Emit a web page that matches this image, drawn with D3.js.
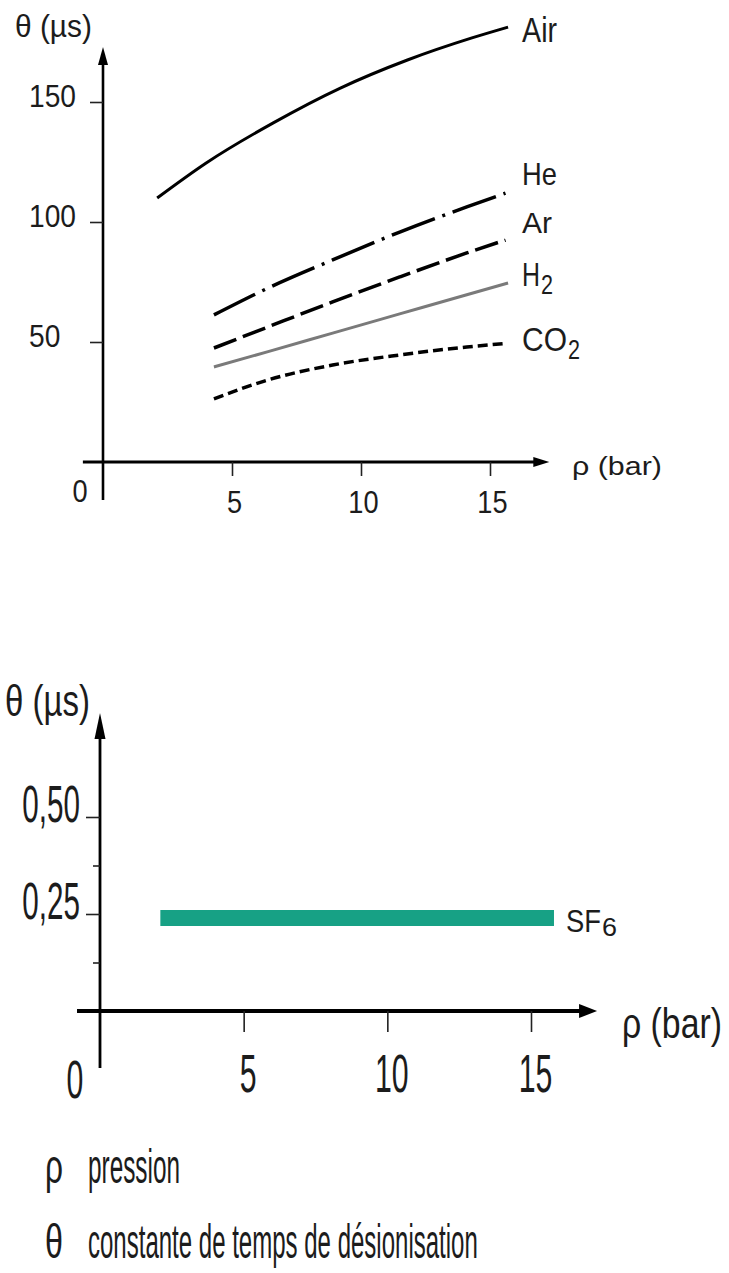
<!DOCTYPE html>
<html><head><meta charset="utf-8">
<script src="https://cdn.jsdelivr.net/npm/d3@7"></script>
<style>
body{margin:0;background:#fff}
text{font-family:"Liberation Sans",Arial,sans-serif;fill:#1c1c1c}
</style>
</head><body><script>
// ---------- data ----------
const pressureTicks = [5, 10, 15];
const thetaTicksTop = [50, 100, 150];
const thetaTicksBottom = [0.25, 0.5];
const thetaMinorBottom = [0.125, 0.375];

const airP = [2.1, 4.0, 6.6, 9.2, 11.8, 14.3, 15.7];
const airT = [110, 124.6, 141.3, 155.8, 167.5, 176.7, 181.2];
const heP  = [4.3, 6.4, 8.9, 11.5, 14.1, 15.6];
const heT  = [61.3, 72.5, 84.2, 95.8, 106.3, 112];
const arP  = [4.3, 6.4, 8.9, 11.5, 14.1, 15.6];
const arT  = [47.5, 56.3, 66.7, 77.1, 87.1, 92.5];
const h2P  = [4.3, 6.4, 8.9, 11.5, 14.1, 15.7];
const h2T  = [39.6, 46.0, 53.7, 61.7, 69.7, 74.6];
const co2P = [4.3, 6.4, 8.9, 11.5, 14.1, 15.6];
const co2T = [26.3, 34.2, 40.4, 44.6, 47.9, 49.4];
const sf6P = [2.1, 15.8];
const sf6T = [0.24, 0.24];

const gasMain = ["Air", "He", "Ar", "H", "CO"];
const gasSub  = ["", "", "", "2", "2"];
const legendSymbols = ["ρ", "θ"];
const legendTexts = ["pression", "constante de temps de désionisation"];

// ---------- drawing ----------
const svg = d3.select("body").append("svg").attr("width", 729).attr("height", 1273);

function shape(t, x, y, fs, opt) {
  t.attr("font-size", fs).attr("x", 0).attr("y", 0);
  const w0 = t.node().getComputedTextLength();
  const sx = opt.w != null ? opt.w / w0 : opt.sx;
  t.attr("font-size", fs * sx)
   .attr("transform", `translate(${x},${y}) scale(1,${1 / sx})`);
  return w0 * sx;
}
function txt(g, s, x, y, fs, anchor, opt) {
  const t = g.append("text").attr("text-anchor", anchor || "start").text(s);
  return shape(t, x, y, fs, opt);
}
function fitAxisText(sel, x, y, fs, anchor, sx) {
  sel.each(function () {
    const t = d3.select(this).attr("dy", null).attr("text-anchor", anchor)
      .attr("font-family", null).attr("fill", "#1c1c1c");
    shape(t, x, y, fs, { sx });
  });
}

// ===== Top chart =====
const x1 = d3.scaleLinear().domain([0, 15]).range([103, 490]);
const y1 = d3.scaleLinear().domain([0, 150]).range([462, 102]);
const gTop = svg.append("g");

gTop.append("line").attr("x1", x1(-0.78)).attr("x2", x1(17.0)).attr("y1", y1(0)).attr("y2", y1(0))
  .attr("stroke", "#000").attr("stroke-width", 2.8);
gTop.append("line").attr("x1", x1(0)).attr("x2", x1(0)).attr("y1", y1(-15.8)).attr("y2", y1(170))
  .attr("stroke", "#000").attr("stroke-width", 2.6);
{
  const tx = x1(17.3), ty = y1(0);
  gTop.append("path").attr("d", `M${tx},${ty} L${tx - 16},${ty - 5} L${tx - 16},${ty + 5} Z`).attr("fill", "#000");
  const ax = x1(0), ay = y1(172.9);
  gTop.append("path").attr("d", `M${ax},${ay} L${ax - 5},${ay + 18} L${ax + 5},${ay + 18} Z`).attr("fill", "#000");
}
const yAx1 = gTop.append("g").attr("transform", `translate(${x1(0)},0)`)
  .call(d3.axisLeft(y1).tickValues(thetaTicksTop).tickSize(13).tickFormat(d3.format("d")));
yAx1.select(".domain").remove();
yAx1.selectAll("line").attr("stroke", "#222").attr("stroke-width", 1.6);
yAx1.selectAll("text").call(fitAxisText, 29 - x1(0), 4, 32, "start", 0.88);

const xAx1 = gTop.append("g").attr("transform", `translate(0,${y1(0)})`)
  .call(d3.axisBottom(x1).tickValues(pressureTicks).tickSize(14).tickFormat(d3.format("d")));
xAx1.select(".domain").remove();
xAx1.selectAll("line").attr("stroke", "#222").attr("stroke-width", 1.6);
xAx1.selectAll("text").call(fitAxisText, 2, 51, 32, "middle", 0.85);
txt(gTop, "0", 80, 502, 32, "middle", { sx: 0.85 });

const line1 = d3.line().x(d => x1(d[0])).y(d => y1(d[1])).curve(d3.curveMonotoneX);
const series = [
  { P: airP, T: airT, color: "#000", w: 3, dash: null },
  { P: heP, T: heT, color: "#000", w: 3.5, dash: "46,8,3,8" },
  { P: arP, T: arT, color: "#000", w: 3.5, dash: "24,7" },
  { P: h2P, T: h2T, color: "#7a7a7a", w: 3, dash: null },
  { P: co2P, T: co2T, color: "#000", w: 3.5, dash: "10,5" }
];
series.forEach(s => {
  gTop.append("path").datum(s.P.map((p, i) => [p, s.T[i]]))
    .attr("d", line1).attr("fill", "none").attr("stroke", s.color)
    .attr("stroke-width", s.w).attr("stroke-dasharray", s.dash);
});
const labelStyle = [
  { dy: 15, fs: 35, w: 35 },
  { dy: -8, fs: 32, w: 35 },
  { dy: -7, fs: 30, w: 30 },
  { dy: 3, fs: 33, w: 18 },
  { dy: 8, fs: 33, w: 45 }
];
series.forEach((s, i) => {
  const last = s.T.length - 1;
  const lx = x1(15.7) + 14, ly = y1(s.T[last]) + labelStyle[i].dy;
  const w = txt(gTop, gasMain[i], lx, ly, labelStyle[i].fs, "start", { w: labelStyle[i].w });
  if (gasSub[i]) txt(gTop, gasSub[i], lx + w + 1, ly + 8, 27, "start", { sx: 0.8 });
});
txt(gTop, "θ (µs)", 15, 37, 31, "start", { w: 77 });
txt(gTop, "ρ (bar)", 572, 475, 26, "start", { w: 90 });

// ===== Bottom chart =====
const x2 = d3.scaleLinear().domain([0, 15]).range([100, 531]);
const y2 = d3.scaleLinear().domain([0, 0.5]).range([1011, 817]);
const gBot = svg.append("g");
const frFmt = d3.formatLocale({ decimal: ",", thousands: " ", grouping: [3], currency: ["", "€"] }).format(".2f");

gBot.append("line").attr("x1", x2(-0.8)).attr("x2", x2(17.0)).attr("y1", y2(0)).attr("y2", y2(0))
  .attr("stroke", "#000").attr("stroke-width", 4);
gBot.append("line").attr("x1", x2(0)).attr("x2", x2(0)).attr("y1", y2(-0.147)).attr("y2", y2(0.74))
  .attr("stroke", "#000").attr("stroke-width", 2.8);
{
  const tx = x2(17.3), ty = y2(0);
  gBot.append("path").attr("d", `M${tx},${ty} L${tx - 18},${ty - 7} L${tx - 18},${ty + 7} Z`).attr("fill", "#000");
  const ax = x2(0), ay = y2(0.768);
  gBot.append("path").attr("d", `M${ax},${ay} L${ax - 5.5},${ay + 26} L${ax + 5.5},${ay + 26} Z`).attr("fill", "#000");
}
const yAx2 = gBot.append("g").attr("transform", `translate(${x2(0)},0)`)
  .call(d3.axisLeft(y2).tickValues(thetaTicksBottom).tickSize(14).tickFormat(frFmt));
yAx2.select(".domain").remove();
yAx2.selectAll("line").attr("stroke", "#222").attr("stroke-width", 1.6);
yAx2.selectAll("text").call(fitAxisText, -20, 4, 52, "end", 0.57);
const yMin2 = gBot.append("g").attr("transform", `translate(${x2(0)},0)`)
  .call(d3.axisLeft(y2).tickValues(thetaMinorBottom).tickSize(7).tickFormat(""));
yMin2.select(".domain").remove();
yMin2.selectAll("line").attr("stroke", "#222").attr("stroke-width", 1.6);

const xAx2 = gBot.append("g").attr("transform", `translate(0,${y2(0)})`)
  .call(d3.axisBottom(x2).tickValues(pressureTicks).tickSize(21).tickFormat(d3.format("d")));
xAx2.select(".domain").remove();
xAx2.selectAll("line").attr("stroke", "#222").attr("stroke-width", 1.6);
xAx2.selectAll("text").call(fitAxisText, 4, 81, 54, "middle", 0.56);
txt(gBot, "0", 75, 1098, 54, "middle", { sx: 0.56 });

gBot.append("path").datum(sf6P.map((p, i) => [p, sf6T[i]]))
  .attr("d", d3.line().x(d => x2(d[0])).y(d => y2(d[1])))
  .attr("stroke", "#17a185").attr("stroke-width", 16).attr("fill", "none");
{
  const lx = x2(sf6P[1]) + 12, ly = y2(sf6T[1]) + 14;
  const w = txt(gBot, "SF", lx, ly, 32, "start", { w: 35 });
  txt(gBot, "6", lx + w + 1, ly + 4, 25, "start", { w: 15 });
}
txt(gBot, "θ (µs)", 5, 716, 44, "start", { w: 85 });
txt(gBot, "ρ (bar)", 622, 1038, 42, "start", { w: 100 });

const legY = [1183, 1258];
const legW = [92, 390];
legendSymbols.forEach((s, i) => {
  txt(svg, s, 45, legY[i], 48, "start", { w: 18 });
  txt(svg, legendTexts[i], 88, legY[i], 48, "start", { w: legW[i] });
});
</script></body></html>
